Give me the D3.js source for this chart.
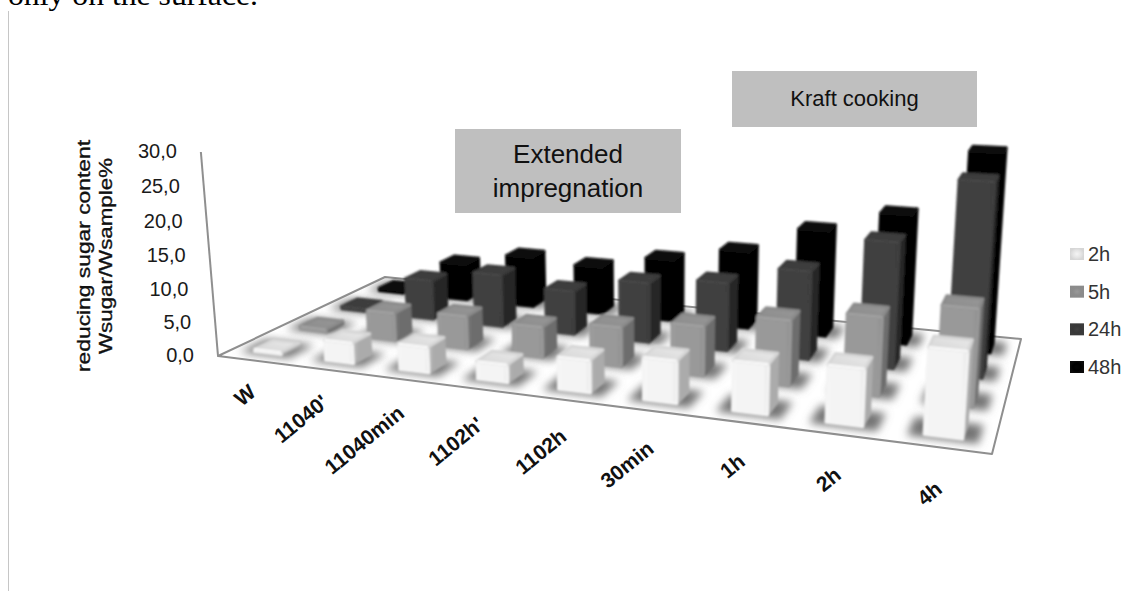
<!DOCTYPE html>
<html>
<head>
<meta charset="utf-8">
<style>
  html, body { margin: 0; padding: 0; background: #fff; }
  svg { display: block; }
</style>
<script src="https://cdn.jsdelivr.net/npm/d3@7/dist/d3.min.js"></script>
</head>
<body>
<svg id="chart" width="1125" height="591"></svg>
<script>
// Reducing sugar content per cooking stage and hold time
const categories = ["W", "11040'", "11040min", "1102h'", "1102h", "30min", "1h", "2h", "4h"];
const seriesNames = ["2h", "5h", "24h", "48h"];
const values2h = [0.4, 3.1, 3.8, 2.6, 4.6, 5.9, 6.8, 7.6, 11.2];
const values5h = [0.4, 4.2, 4.9, 4.5, 5.7, 7.1, 9.2, 10.9, 13.2];
const values24h = [0.4, 6.2, 8.2, 6.7, 9.1, 10.2, 13.0, 18.2, 27.4];
const values48h = [0.4, 6.0, 8.2, 7.6, 9.8, 12.1, 16.3, 19.6, 29.4];
const valueTicks = [0, 5, 10, 15, 20, 25, 30];

const seriesValues = [values2h, values5h, values24h, values48h];

const palette = [
  { front: "#f4f4f4", hi: "#ffffff", lo: "#e4e4e4", side: "#ababab", sideLo: "#c4c4c4", top: "#d6d6d6", edge: "#ffffff" },
  { front: "#999999", hi: "#ababab", lo: "#8c8c8c", side: "#6d6d6d", sideLo: "#7d7d7d", top: "#8b8b8b", edge: "#a6a6a6" },
  { front: "#414141", hi: "#4c4c4c", lo: "#383838", side: "#262626", sideLo: "#303030", top: "#3b3b3b", edge: "#4a4a4a" },
  { front: "#050505", hi: "#0e0e0e", lo: "#000000", side: "#000000", sideLo: "#020202", top: "#0a0a0a", edge: "#111111" }
];

// Floor corners on the page and the point where verticals converge
const floorCorners = { fl: [218, 356], bl: [385, 277], br: [1021, 339], fr: [992, 454] };
const verticalVanish = [650, 5500];
const wallTop = [201, 152];

// Unit square to quadrilateral homography
function squareToQuad(p00, p10, p11, p01) {
  const [x0, y0] = p00, [x1, y1] = p10, [x2, y2] = p11, [x3, y3] = p01;
  const dx1 = x1 - x2, dx2 = x3 - x2, sx = x0 - x1 + x2 - x3;
  const dy1 = y1 - y2, dy2 = y3 - y2, sy = y0 - y1 + y2 - y3;
  const den = dx1 * dy2 - dx2 * dy1;
  const g = (sx * dy2 - dx2 * sy) / den;
  const h = (dx1 * sy - sx * dy1) / den;
  return [
    [x1 - x0 + g * x1, x3 - x0 + h * x3, x0],
    [y1 - y0 + g * y1, y3 - y0 + h * y3, y0],
    [g, h, 1]
  ];
}
const H = squareToQuad(floorCorners.fl, floorCorners.fr, floorCorners.br, floorCorners.bl);
const kUp = (wallTop[1] - floorCorners.fl[1]) / (verticalVanish[1] - wallTop[1]);

// u: along the categories, v: into the depth, h: 0..1 up the value axis
function project(u, v, h) {
  const X = H[0][0] * u + H[0][1] * v + H[0][2] + h * kUp * verticalVanish[0];
  const Y = H[1][0] * u + H[1][1] * v + H[1][2] + h * kUp * verticalVanish[1];
  const W = H[2][0] * u + H[2][1] * v + H[2][2] + h * kUp;
  return [X / W, Y / W];
}

const uScale = d3.scaleBand().domain(categories).range([0, 1]).paddingInner(0.62).paddingOuter(0.31);
const vScale = d3.scaleBand().domain(seriesNames).range([0, 1]).paddingInner(0.6).paddingOuter(0.3);
const hScale = d3.scaleLinear().domain([0, 30]).range([0, 1]);

const svg = d3.select("#chart");
const defs = svg.append("defs");
const polygon = d3.line();
const closed = pts => polygon(pts) + "Z";

defs.append("filter").attr("id", "soft").attr("x", "-20%").attr("y", "-20%").attr("width", "140%").attr("height", "140%")
  .append("feGaussianBlur").attr("stdDeviation", 0.85);
defs.append("filter").attr("id", "cast").attr("x", "-100%").attr("y", "-100%").attr("width", "300%").attr("height", "300%")
  .append("feGaussianBlur").attr("stdDeviation", 4.5);

palette.forEach((c, i) => {
  const fg = defs.append("linearGradient").attr("id", `front${i}`);
  [[0, c.hi], [0.1, c.front], [0.86, c.front], [1, c.lo]].forEach(([o, col]) =>
    fg.append("stop").attr("offset", o).attr("stop-color", col));
  const sg = defs.append("linearGradient").attr("id", `side${i}`);
  [[0, c.sideLo], [0.35, c.side], [1, c.side]].forEach(([o, col]) =>
    sg.append("stop").attr("offset", o).attr("stop-color", col));
  const tg = defs.append("linearGradient").attr("id", `top${i}`).attr("x1", 0).attr("y1", 1).attr("x2", 1).attr("y2", 0);
  [[0, c.top], [1, d3.color(c.top).brighter(0.25).formatHex()]].forEach(([o, col]) =>
    tg.append("stop").attr("offset", o).attr("stop-color", col));
  const lg = defs.append("radialGradient").attr("id", `swatch${i}`);
  [[0, c.front], [0.6, c.lo], [1, c.top]].forEach(([o, col]) =>
    lg.append("stop").attr("offset", o).attr("stop-color", col));
});

// Surrounding page: running text and the rule on the left
svg.append("text").attr("x", 8).attr("y", 4.5)
  .attr("font-family", "Liberation Serif").attr("font-size", 30).attr("fill", "#000")
  .attr("textLength", 250).attr("lengthAdjust", "spacingAndGlyphs")
  .text("only on the surface.");
svg.append("line").attr("x1", 8.5).attr("x2", 8.5).attr("y1", 11).attr("y2", 591)
  .attr("stroke", "#c6c6c6").attr("stroke-width", 1);

// Floor and value wall
const floorPts = [[0, 0], [1, 0], [1, 1], [0, 1]].map(([u, v]) => project(u, v, 0));
defs.append("clipPath").attr("id", "floorClip").append("path").attr("d", closed(floorPts));
svg.append("path").attr("d", closed(floorPts)).attr("fill", "#fff")
  .attr("stroke", "#8f8f8f").attr("stroke-width", 2).attr("stroke-linejoin", "round");
svg.append("line")
  .attr("x1", project(0, 0, 0)[0]).attr("y1", project(0, 0, 0)[1])
  .attr("x2", project(0, 0, hScale(30))[0]).attr("y2", project(0, 0, hScale(30))[1])
  .attr("stroke", "#8f8f8f").attr("stroke-width", 2);

// Bars run from the back row to the front so nearer ones overlap
const rows = d3.range(seriesNames.length).reverse();

const shadowLayer = svg.append("g").attr("clip-path", "url(#floorClip)");
rows.forEach(s => {
  categories.forEach(cat => {
    const u0 = uScale(cat), w = uScale.bandwidth(), v0 = vScale(seriesNames[s]), d = vScale.bandwidth();
    const gu = w * 0.42, gv = d * 0.2;
    const pts = [[u0 - gu, v0 - gv], [u0 + w + gu, v0 - gv], [u0 + w + gu, v0 + d + gv], [u0 - gu, v0 + d + gv]]
      .map(([a, b]) => project(a, b, 0));
    shadowLayer.append("path").attr("d", closed(pts)).attr("fill", "#747474").attr("filter", "url(#cast)");
  });
});

const barLayer = svg.append("g").attr("filter", "url(#soft)");
rows.forEach(s => {
  const c = palette[s];
  categories.forEach((cat, ci) => {
    const val = seriesValues[s][ci];
    const u0 = uScale(cat), u1 = u0 + uScale.bandwidth();
    const v0 = vScale(seriesNames[s]), v1 = v0 + vScale.bandwidth();
    const h = hScale(val);
    const g = barLayer.append("g").attr("stroke-linejoin", "round").attr("stroke-width", 3);
    const side = [[u1, v0, 0], [u1, v1, 0], [u1, v1, h], [u1, v0, h]].map(p => project(...p));
    const front = [[u0, v0, 0], [u1, v0, 0], [u1, v0, h], [u0, v0, h]].map(p => project(...p));
    const top = [[u0, v0, h], [u1, v0, h], [u1, v1, h], [u0, v1, h]].map(p => project(...p));
    g.append("path").attr("d", closed(side)).attr("fill", `url(#side${s})`).attr("stroke", c.side);
    g.append("path").attr("d", closed(front)).attr("fill", `url(#front${s})`).attr("stroke", c.front);
    g.append("path").attr("d", closed(top)).attr("fill", `url(#top${s})`).attr("stroke", c.top);
    g.append("path").attr("d", polygon([top[0], top[1]])).attr("fill", "none")
      .attr("stroke", c.edge).attr("stroke-width", 2);
  });
});

// Value axis labels follow the leaning wall
const axisText = svg.append("g").attr("font-family", "Liberation Sans").attr("font-size", 20).attr("fill", "#1a1a1a");
valueTicks.forEach(t => {
  const [x, y] = project(0, 0, hScale(t));
  axisText.append("text").attr("x", x - 24).attr("y", y + 6).attr("text-anchor", "end")
    .text(d3.format(".1f")(t).replace(".", ","));
});

// Category labels, slanted below the front edge
const catText = svg.append("g").attr("font-family", "Liberation Sans").attr("font-weight", "bold")
  .attr("font-size", 21).attr("fill", "#111");
const labelDrop = d3.scaleLinear().domain([0, categories.length - 1]).range([34, 44]);
categories.forEach((cat, i) => {
  const [x, y] = project(uScale(cat) + uScale.bandwidth() / 2, 0, 0);
  catText.append("text").attr("text-anchor", "end")
    .attr("transform", `translate(${x + 4},${y + labelDrop(i)}) rotate(-39)`)
    .text(cat);
});

// Axis title
const title = svg.append("g").attr("font-family", "Liberation Sans").attr("fill", "#111");
title.append("text").attr("transform", "translate(90,256) rotate(-90)").attr("text-anchor", "middle")
  .attr("font-size", 19).attr("textLength", 232).attr("lengthAdjust", "spacingAndGlyphs")
  .attr("stroke", "#111").attr("stroke-width", 0.35)
  .text("reducing sugar content");
title.append("text").attr("transform", "translate(112,256) rotate(-90)").attr("text-anchor", "middle")
  .attr("font-size", 19).attr("textLength", 196).attr("lengthAdjust", "spacingAndGlyphs")
  .attr("stroke", "#111").attr("stroke-width", 0.35)
  .text("Wsugar/Wsample%");

// Annotation boxes
const boxes = [
  { x: 455, y: 129, w: 226, h: 84, lines: ["Extended", "impregnation"], first: 163, step: 34, size: 26 },
  { x: 732, y: 71, w: 245, h: 56, lines: ["Kraft cooking"], first: 106, step: 0, size: 22 }
];
boxes.forEach(b => {
  svg.append("rect").attr("x", b.x).attr("y", b.y).attr("width", b.w).attr("height", b.h).attr("fill", "#bfbfbf");
  b.lines.forEach((ln, i) => {
    svg.append("text").attr("x", b.x + b.w / 2).attr("y", b.first + i * b.step).attr("text-anchor", "middle")
      .attr("font-family", "Liberation Sans").attr("font-size", b.size).attr("fill", "#111").text(ln);
  });
});

// Legend
const legendY = d3.scalePoint().domain(seriesNames).range([254, 367]);
seriesNames.forEach((name, i) => {
  const y = legendY(name);
  svg.append("rect").attr("x", 1070).attr("y", y - 6).attr("width", 14).attr("height", 12)
    .attr("fill", `url(#swatch${i})`);
  svg.append("text").attr("x", 1088).attr("y", y + 7)
    .attr("font-family", "Liberation Sans").attr("font-size", 20).attr("fill", "#333").text(name);
});
</script>
</body>
</html>
